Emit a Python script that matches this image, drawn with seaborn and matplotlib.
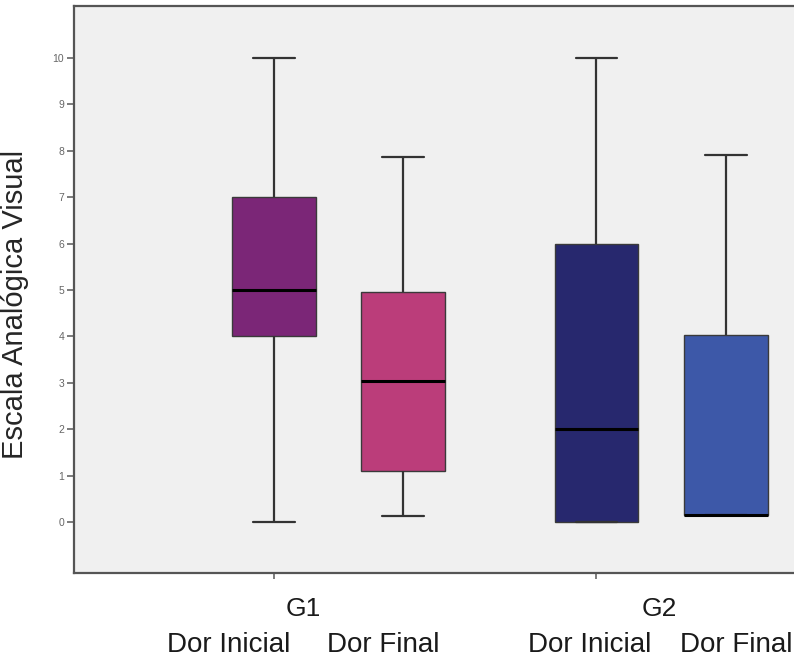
import matplotlib
matplotlib.use("Agg")
import matplotlib.pyplot as plt
import seaborn as sns
import pandas as pd

# ---- data (five-number summaries) ----
groups = ["G1", "G2"]
momentos = ["Dor Inicial", "Dor Final"]
g1_dor_inicial = [0, 4, 5, 7, 10]
g1_dor_final = [0.12, 1.10, 3.04, 4.96, 7.87]
g2_dor_inicial = [0, 0, 2, 6, 10]
g2_dor_final = [0.15, 0.15, 0.15, 4.02, 7.90]
y_ticks = [0, 1, 2, 3, 4, 5, 6, 7, 8, 9, 10]
y_label = "Escala Analógica Visual"

rows = []
for g, m, vals in [("G1", "Dor Inicial", g1_dor_inicial),
                   ("G1", "Dor Final", g1_dor_final),
                   ("G2", "Dor Inicial", g2_dor_inicial),
                   ("G2", "Dor Final", g2_dor_final)]:
    for v in vals:
        rows.append({"grupo": g, "momento": m, "eva": v})
df = pd.DataFrame(rows)

box_colors = {("G1", "Dor Inicial"): "#7b2677",
              ("G1", "Dor Final"): "#bb3d7a",
              ("G2", "Dor Inicial"): "#27286e",
              ("G2", "Dor Final"): "#3d58a8"}

sns.set_style("white")
plt.rcParams["font.family"] = ["Liberation Sans", "DejaVu Sans"]

fig = plt.figure(figsize=(7.94, 6.58), dpi=100)
ax = fig.add_axes([74 / 794, (658 - 573) / 658, (794 - 74) / 794, (573 - 6) / 658])
ax.set_facecolor("#f0f0f0")

sns.boxplot(data=df, x="grupo", y="eva", hue="momento", order=groups,
            hue_order=momentos, dodge=True, width=0.8, gap=0.35, whis=1.5,
            palette=["#7b2677", "#bb3d7a"], linecolor="#3a3a3a", linewidth=1.2,
            saturation=1, legend=False, ax=ax,
            whiskerprops=dict(color="#333333", linewidth=1.6),
            capprops=dict(color="#333333", linewidth=1.6),
            medianprops=dict(color="black", linewidth=2.2),
            boxprops=dict(edgecolor="#3a3a3a", linewidth=1.0))

# recolor boxes per group/moment
patches = [p for p in ax.patches]
order_keys = []
for m in momentos:
    for g in groups:
        order_keys.append((g, m))
for p, key in zip(patches, order_keys):
    p.set_facecolor(box_colors[key])

ax.set_xlim(-0.819, 1.412)
ax.set_ylim(-1.10, 11.12)
ax.set_yticks(y_ticks)
ax.set_yticklabels([str(t) for t in y_ticks], fontsize=7.5, color="#666666")
ax.tick_params(axis="y", length=5, width=1.2, color="#666666", pad=2, left=True)
ax.set_xticks([-0.2, 0.8])
ax.set_xticklabels(["", ""])
ax.tick_params(axis="x", length=4, width=1.2, color="#666666", bottom=True)
ax.set_xlabel("")
ax.set_ylabel(y_label, fontsize=21)
ax.yaxis.set_label_coords(-0.062, 0.473)

for s in ["left", "bottom", "top"]:
    ax.spines[s].set_color("#555555")
    ax.spines[s].set_linewidth(1.6)
ax.spines["right"].set_visible(False)

# label placement (layout constants, data x units)
group_label_x = {"G1": -0.109, "G2": 0.996}
moment_label_x = {("G1", "Dor Inicial"): -0.339, ("G1", "Dor Final"): 0.139,
                  ("G2", "Dor Inicial"): 0.780, ("G2", "Dor Final"): 1.234}
xt = ax.get_xaxis_transform()
for g in groups:
    ax.text(group_label_x[g], -0.042, g, transform=xt,
            ha="center", va="top", fontsize=19, color="#1a1a1a")
    for m in momentos:
        ax.text(moment_label_x[(g, m)], -0.104, m, transform=xt,
                ha="center", va="top", fontsize=20, color="#1a1a1a")

fig.savefig("out.png", dpi=100, facecolor="white")
